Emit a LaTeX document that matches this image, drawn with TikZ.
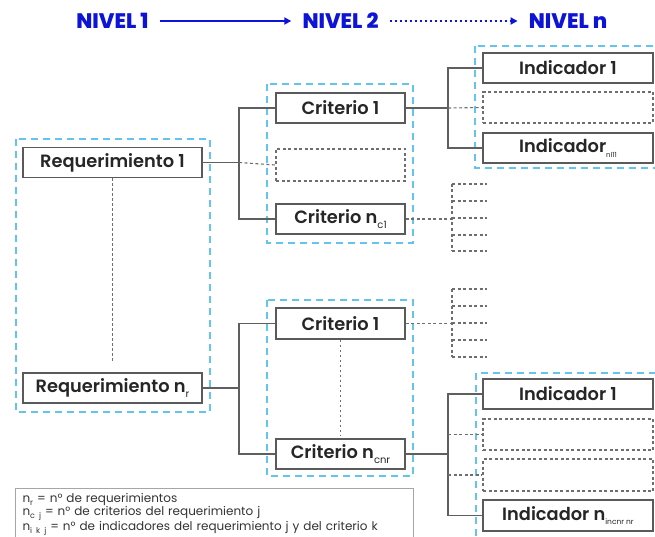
\documentclass[tikz,border=0pt]{standalone}
\usepackage{fontspec}
\setmainfont{Poppins}[BoldFont={Poppins SemiBold}]
\newfontfamily\hdrfont{Poppins ExtraBold}
\usetikzlibrary{arrows.meta}
\definecolor{hdrblue}{RGB}{14,20,214}
\definecolor{groupblue}{RGB}{100,196,236}
\definecolor{boxgray}{RGB}{90,90,90}
\definecolor{linegray}{RGB}{95,95,95}
\definecolor{dashgray}{RGB}{110,110,110}
\newcommand\lowidx[2][10pt]{\raisebox{-0.45ex}{\fontsize{#1}{#1}\selectfont\mdseries #2}}
\tikzset{
  hdr/.style={font=\hdrfont\fontsize{21}{21}\selectfont, text=hdrblue, inner sep=0pt},
  hdrarrow/.style={draw=hdrblue, line width=2pt, -{Triangle[length=7pt,width=7pt]}},
  itembox/.style={draw=boxgray, line width=1.5pt, fill=white, minimum height=30pt,
    inner sep=0pt, font=\bfseries\fontsize{17.8}{17.8}\selectfont, text=black!85},
  reqbox/.style={itembox, minimum width=179pt},
  critbox/.style={itembox, minimum width=129pt},
  indbox/.style={itembox, minimum width=170pt},
  blankbox/.style={draw=dashgray, line width=1.2pt, dash pattern=on 3pt off 2.5pt,
    minimum height=31pt, inner sep=0pt},
  group/.style={draw=groupblue, line width=1.4pt, dash pattern=on 7pt off 5pt},
  conn/.style={draw=linegray, line width=1.4pt},
  dconn/.style={draw=dashgray, line width=1.1pt, dash pattern=on 3pt off 2.5pt},
}
\begin{document}
\begin{tikzpicture}[x=1pt,y=-1pt]
\clip (0,0) rectangle (655,537);
\useasboundingbox (0,0) rectangle (655,537);

% level headers
\node[hdr] (lv1) at (112.5,21) {NIVEL 1};
\node[hdr] (lv2) at (340.5,21) {NIVEL 2};
\node[hdr] (lvn) at (568,21) {NIVEL n};
\draw[hdrarrow] ([xshift=11pt]lv1.east) -- ([xshift=-11pt]lv2.west);
\draw[hdrarrow, dash pattern=on 2pt off 3pt] ([xshift=11pt]lv2.east) -- ([xshift=-11pt]lvn.west);

% dashed group frames
\draw[group] (16,139) rectangle (210,412);
\draw[group] (267,84) rectangle (413,243);
\draw[group] (267,300) rectangle (413,476);
\draw[group] (475,46) rectangle (670,168);
\draw[group] (476,373) rectangle (670,545);

% bus columns
\coordinate (busA) at (239,0);
\coordinate (busB) at (448,0);
\coordinate (busC) at (452,0);
\coordinate (stubEnd) at (487,0);

% level 1
\node[reqbox] (req1) at (112.5,162.5) {Requerimiento 1};
\node[reqbox] (reqn) at (112.5,388) {Requerimiento n\lowidx[10pt]{r}};
\draw[dconn, dash pattern=on 2.5pt off 2.5pt] (req1.south) -- ([yshift=10pt]reqn.north);

% level 2, first requirement
\node[critbox] (c11) at (340.5,108) {Criterio 1};
\node[blankbox, minimum width=129pt, minimum height=32pt] (c1e) at (340.5,165) {};
\node[critbox] (c1n) at (340.5,219) {Criterio n\lowidx{c1}};

% level 2, last requirement
\node[critbox, minimum height=31pt] (c21) at (340.5,323.5) {Criterio 1};
\node[critbox] (c2n) at (340.5,454) {Criterio n\lowidx{cnr}};
\draw[dconn, dash pattern=on 2.5pt off 2.5pt] (c21.south) -- ([yshift=3pt]c2n.north);

% level n, first criterion
\node[indbox] (i11) at (568,68) {Indicador 1};
\node[blankbox, minimum width=170pt] (i1e) at (568,107.5) {};
\node[indbox] (i1n) at (568,148) {Indicador\lowidx[7pt]{nI11}};

% level n, last criterion
\node[indbox] (i21) at (568,394) {Indicador 1};
\node[blankbox, minimum width=170pt] (i2e1) at (568,434.5) {};
\node[blankbox, minimum width=170pt, minimum height=32pt] (i2e2) at (568,475) {};
\node[indbox, minimum height=31pt] (i2n) at (568,515.5) {Indicador n\lowidx[7.5pt]{incnr nr}};

% requirement 1 -> criteria
\draw[conn] (req1.east) -- (req1.east -| busA);
\draw[conn] (c11.west) -- (c11.west -| busA) -- (c1n.west -| busA) -- (c1n.west);
\draw[dconn] (req1.east -| busA) -- (c1e.west);

% requirement n -> criteria
\draw[conn] (reqn.east) -- (reqn.east -| busA);
\draw[conn] (c21.west) -- (c21.west -| busA) -- (c2n.west -| busA) -- (c2n.west);

% criterion 1 -> indicators
\draw[conn] (c11.east) -- (c11.east -| busB);
\draw[conn] (i11.west) -- (i11.west -| busB) -- (i1n.west -| busB) -- (i1n.west);
\draw[dconn] (c11.east -| busB) -- (i1e.west);

% criterion n (last) -> indicators
\draw[conn] (c2n.east) -- (c2n.east -| busB);
\draw[conn] (i21.west) -- (i21.west -| busB) -- (i2n.west -| busB) -- (i2n.west);
\draw[dconn] (i2e1.west -| busB) -- (i2e1.west);
\draw[dconn] (i2e2.west -| busB) -- (i2e2.west);

% collapsed indicator stubs
\draw[dconn] (c1n.east) -- (c1n.east -| busC);
\draw[dconn] (busC |- 0,184) -- (busC |- 0,251);
\foreach \y in {184,201,218,235,251}
  \draw[dconn] (busC |- 0,\y) -- (stubEnd |- 0,\y);
\draw[dconn] (c21.east) -- (c21.east -| busC);
\draw[dconn] (busC |- 0,289) -- (busC |- 0,357);
\foreach \y in {289,306,323,340,357}
  \draw[dconn] (busC |- 0,\y) -- (stubEnd |- 0,\y);

% legend
\node[draw=black!35, line width=1pt, anchor=north west, minimum width=398pt,
      minimum height=52pt, inner xsep=7pt, inner ysep=4pt, align=left,
      font=\fontsize{12}{12.5}\selectfont, text=black!80, text width=384pt] (legend) at (15,488)
  {n\lowidx[8pt]{r} = n° de requerimientos\\
   n\lowidx[8pt]{c j} = n° de criterios del requerimiento j\\
   n\lowidx[8pt]{i k j} = n° de indicadores del requerimiento j y del criterio k};
\end{tikzpicture}
\end{document}
